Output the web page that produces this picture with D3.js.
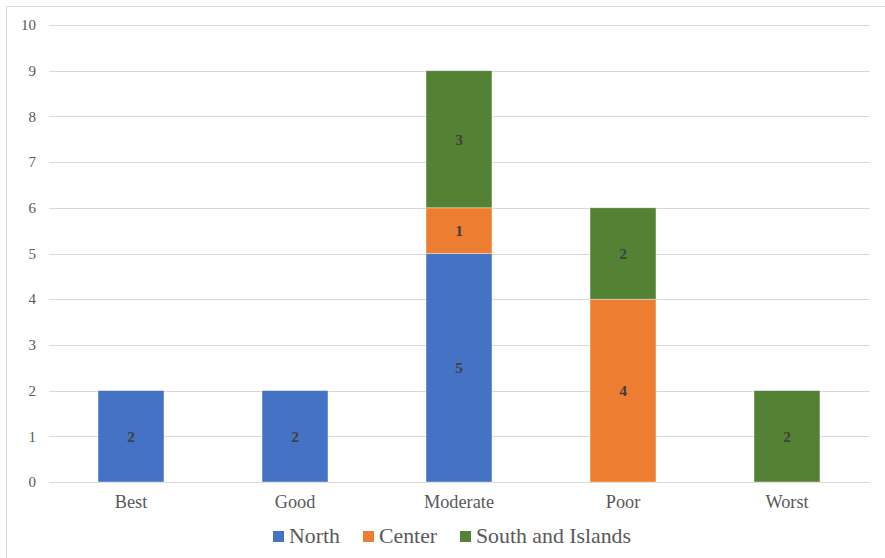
<!DOCTYPE html>
<html><head><meta charset="utf-8">
<script src="https://cdn.jsdelivr.net/npm/d3@7"></script>
<style>html,body{margin:0;padding:0;background:#fff;}</style>
</head><body>
<svg id="chart" width="885" height="558"></svg>
<script>
const categories = ["Best", "Good", "Moderate", "Poor", "Worst"];
const seriesNames = ["North", "Center", "South and Islands"];
const north = [2, 2, 5, 0, 0];
const center = [0, 0, 1, 4, 0];
const south = [0, 0, 3, 2, 2];
const colors = ["#4472C4", "#ED7D31", "#548235"];
const yTicks = [0,1,2,3,4,5,6,7,8,9,10];

const svg = d3.select("#chart");
const W = 885, H = 558;
const serif = "'Liberation Serif', 'Times New Roman', 'DejaVu Serif', serif";
const x = d3.scaleBand().domain(categories).range([49, 869]).paddingInner(0.598).paddingOuter(0.299);
const y = d3.scaleLinear().domain([0, 10]).range([482, 25]);

// border
svg.append("rect").attr("x", 6.5).attr("y", 6.5).attr("width", W + 10).attr("height", H + 10)
  .attr("fill", "none").attr("stroke", "#d9d9d9").attr("stroke-width", 1);

// gridlines
svg.append("g").selectAll("line").data(yTicks).join("line")
  .attr("x1", 49).attr("x2", 870)
  .attr("y1", d => Math.round(y(d)) + 0.5).attr("y2", d => Math.round(y(d)) + 0.5)
  .attr("stroke", "#d9d9d9").attr("stroke-width", 1);

// y tick labels
svg.append("g").selectAll("text").data(yTicks).join("text")
  .attr("x", 36).attr("y", d => y(d)).attr("dy", "0.35em")
  .attr("text-anchor", "end")
  .attr("font-family", serif)
  .attr("font-size", 15).attr("fill", "#595959")
  .text(d => d);

// stacked data
const rows = categories.map((c, i) => ({cat: c, North: north[i], Center: center[i], "South and Islands": south[i]}));
const stack = d3.stack().keys(seriesNames)(rows);

const layers = svg.append("g").selectAll("g").data(stack).join("g")
  .attr("fill", (d, i) => colors[i]);
layers.selectAll("rect").data(d => d.filter(s => s[1] - s[0] > 0)).join("rect")
  .attr("x", d => x(d.data.cat))
  .attr("width", x.bandwidth())
  .attr("y", d => y(d[1]))
  .attr("height", d => y(d[0]) - y(d[1]))
  .attr("stroke", "#ffffff").attr("stroke-opacity", 0.5).attr("stroke-width", 0.75);

// data labels
layers.selectAll("text").data(d => d.filter(s => s[1] - s[0] > 0)).join("text")
  .attr("x", d => x(d.data.cat) + x.bandwidth() / 2)
  .attr("y", d => y((d[0] + d[1]) / 2)).attr("dy", "0.35em")
  .attr("text-anchor", "middle")
  .attr("font-family", serif)
  .attr("font-weight", "bold").attr("font-size", 15.5).attr("fill", "#404040")
  .text(d => d[1] - d[0]);

// category labels
svg.append("g").selectAll("text").data(categories).join("text")
  .attr("x", d => x(d) + x.bandwidth() / 2).attr("y", 507.5)
  .attr("text-anchor", "middle")
  .attr("font-family", serif)
  .attr("font-size", 18.3).attr("fill", "#595959")
  .text(d => d);

// legend
const legendX = [273, 363, 460];
const lg = svg.append("g").selectAll("g").data(seriesNames).join("g")
  .attr("transform", (d, i) => `translate(${legendX[i]},0)`);
lg.append("rect").attr("x", 0).attr("y", 531).attr("width", 11).attr("height", 11)
  .attr("fill", (d, i) => colors[i]);
lg.append("text").attr("x", 16).attr("y", 543.3)
  .attr("font-family", serif)
  .attr("font-size", 21.8).attr("fill", "#595959")
  .text(d => d);
</script>
</body></html>
